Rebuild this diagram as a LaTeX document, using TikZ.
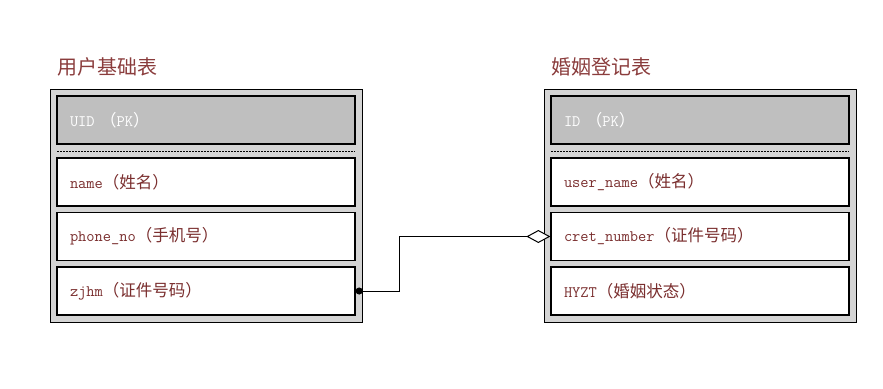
\documentclass[tikz,border=0pt]{standalone}
\usepackage{fontspec}
\newfontfamily\cjk{Noto Sans CJK SC}
\usetikzlibrary{arrows.meta}
\definecolor{txtred}{HTML}{7A2E2E}
\definecolor{titlered}{HTML}{8A3C3C}
\definecolor{outerfill}{HTML}{D4D4D4}
\definecolor{pkfill}{HTML}{BFBFBF}
\tikzset{
  outerbox/.style={draw=black, line width=1pt, fill=outerfill, minimum width=312pt, minimum height=233pt, inner sep=0pt},
  rowbox/.style={draw=black, line width=1.3pt, fill=white, minimum width=298pt, minimum height=48pt, text width=272pt, align=left, inner xsep=13pt, inner ysep=0pt, font=\ttfamily\fontsize{16}{19}\selectfont, text=txtred},
  pkbox/.style={rowbox, fill=pkfill, text=white},
  titletext/.style={anchor=west, inner sep=0pt, font=\cjk\fontsize{20}{23}\selectfont, text=titlered},
  sepline/.style={line width=0.9pt, dash pattern=on 2pt off 1pt},
  link/.style={line width=1pt}
}
\newcommand{\cj}[1]{{\cjk\fontsize{16.5}{19}\selectfont #1}}
\begin{document}
\begin{tikzpicture}[x=1pt,y=-1pt]
\useasboundingbox (0,0) rectangle (883,388);
% left table
\node[titletext] (t1) at (57,67) {用户基础表};
\node[outerbox] (o1) at (206,205.5) {};
\node[pkbox] (uid) at (206,120) {UID \cj{（}PK\cj{）}};
\draw[sepline] (57,151) -- (355,151);
\node[rowbox] (name) at (206,182) {name\cj{（姓名）}};
\node[rowbox] (phone) at (206,236.5) {phone\_no\cj{（手机号）}};
\node[rowbox] (zjhm) at (206,291) {zjhm\cj{（证件号码）}};
% right table
\node[titletext] (t2) at (551,67) {婚姻登记表};
\node[outerbox] (o2) at (700,205.5) {};
\node[pkbox] (id) at (700,120) {ID \cj{（}PK\cj{）}};
\draw[sepline] (551,151) -- (849,151);
\node[rowbox] (uname) at (700,182) {user\_name\cj{（姓名）}};
\node[rowbox] (cret) at (700,236.5) {cret\_number\cj{（证件号码）}};
\node[rowbox] (hyzt) at (700,291) {HYZT\cj{（婚姻状态）}};
% connector
\draw[link, {Circle[length=7pt]}-{Diamond[open,length=24pt,width=13pt,fill=white]}] (zjhm.east) -- ++(44,0) |- (cret.west);
\end{tikzpicture}
\end{document}
